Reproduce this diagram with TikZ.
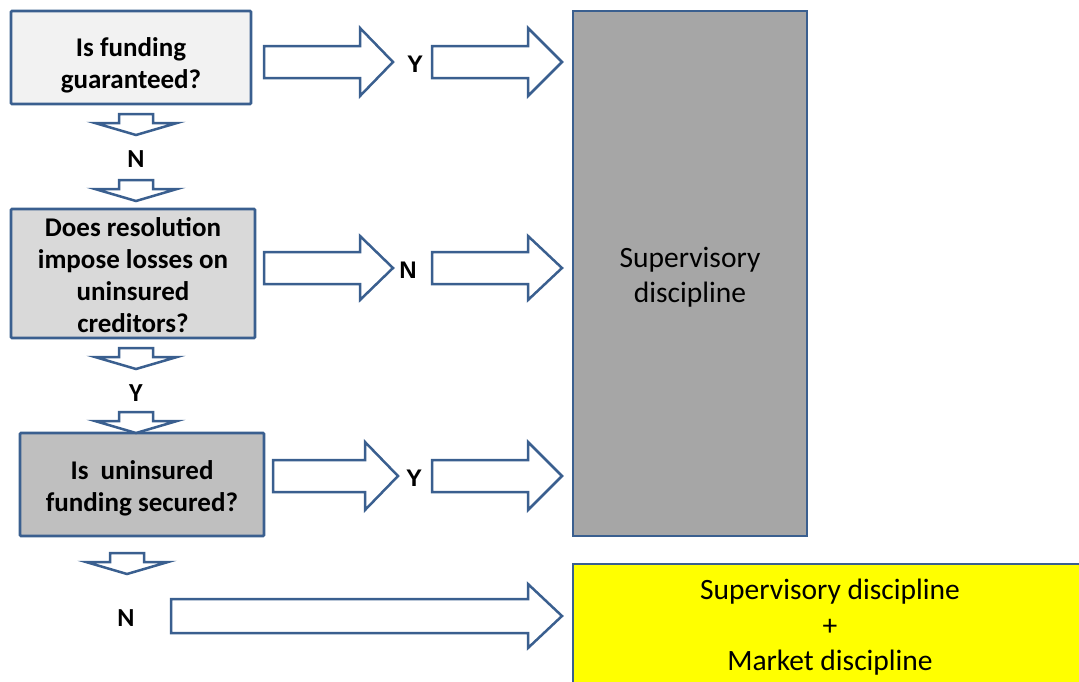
\documentclass[tikz,border=0pt]{standalone}
\usepackage{fontspec}
\setmainfont{Carlito}
\newfontfamily\arialish{Liberation Sans}
\definecolor{edge}{HTML}{3A5F8F}
\definecolor{qone}{HTML}{F2F2F2}
\definecolor{qtwo}{HTML}{D9D9D9}
\definecolor{qthree}{HTML}{BFBFBF}
\definecolor{supv}{HTML}{A6A6A6}
\definecolor{mkt}{HTML}{FFFF00}
\tikzset{
  qbox/.style={draw=edge, line width=2.8pt, rounded corners=1pt, inner sep=0pt},
  qtext/.style={align=center, inner sep=0pt, font=\fontsize{27}{32}\selectfont\bfseries},
  obox/.style={draw=edge, line width=2.8pt, align=center, inner sep=0pt,
    font=\fontsize{29.5}{35.5}\selectfont},
  blockarrow/.style={draw=edge, line width=2.5pt, fill=white, line join=miter},
  yn/.style={font=\fontsize{26}{28}\selectfont\bfseries, inner sep=0pt},
  ynr/.style={font=\arialish\fontsize{24}{26}\selectfont\bfseries, inner sep=0pt}
}
\newcommand\rblock[6]{% xleft, xhead, xtip, ycenter, shafthalf, headhalf
  \draw[blockarrow] (#1,{#4-#5}) -- (#2,{#4-#5}) -- (#2,{#4-#6}) -- (#3,#4) -- (#2,{#4+#6}) -- (#2,{#4+#5}) -- (#1,{#4+#5}) -- cycle;}
\newcommand\dblock[2]{% xcenter, ytop
  \draw[blockarrow] ({#1-17},#2) -- ({#1+17},#2) -- ({#1+17},{#2+9}) -- ({#1+41},{#2+9}) -- (#1,{#2+21}) -- ({#1-41},{#2+9}) -- ({#1-17},{#2+9}) -- cycle;}
\begin{document}
\begin{tikzpicture}[x=1pt,y=-1pt]
\useasboundingbox (0,0) rectangle (1079,681);
\clip (0,0) rectangle (1079,681);
% question boxes
\node[qbox, fill=qone, minimum width=240pt, minimum height=93pt] (q1) at (131,57.5) {};
\node[qtext] (t1) at (131,65) {Is funding\\guaranteed?};
\node[qbox, fill=qtwo, minimum width=244pt, minimum height=129pt] (q2) at (133,273.5) {};
\node[qtext] (t2) at (133,275) {Does resolution\\impose losses on\\uninsured\\creditors?};
\node[qbox, fill=qthree, minimum width=244pt, minimum height=103pt] (q3) at (142,484.5) {};
\node[qtext] (t3) at (142,488) {Is\ \ uninsured\\funding secured?};
% outcome boxes
\node[obox, fill=supv, minimum width=234pt, minimum height=525pt] (sd) at (690,273.5) {};
\node[align=center, inner sep=0pt, font=\fontsize{29.5}{35.5}\selectfont] (st) at (690,277) {Supervisory\\discipline};
\draw[draw=edge, line width=2.8pt, fill=mkt] (573,564) rectangle (1090,700);
\node[font=\fontsize{29.5}{35.5}\selectfont, align=center, inner sep=0pt] (md) at (830,627.5) {Supervisory discipline\\+\\Market discipline};
% row 1
\rblock{264}{360}{393}{62}{16}{34}
\node[ynr] (y1) at (415,64) {Y};
\rblock{432}{528}{562}{62}{16}{34}
% row 2
\rblock{264}{360}{393}{268}{16}{32}
\node[ynr] (n2) at (408,270) {N};
\rblock{432}{528}{562}{268}{16}{32}
% row 3
\rblock{273}{365}{398}{476}{16}{34}
\node[ynr] (y3) at (414,478) {Y};
\rblock{432}{528}{562}{476}{16}{34}
% row 4
\rblock{171}{528}{562}{616}{17}{32}
\node[yn] (n4) at (126,618) {N};
% down arrows
\dblock{136}{114}
\node[yn] (n1) at (136,159) {N};
\dblock{136}{180}
\dblock{136}{348}
\node[yn] (y2) at (136,393) {Y};
\dblock{136}{412}
\dblock{127}{553}
\end{tikzpicture}
\end{document}
